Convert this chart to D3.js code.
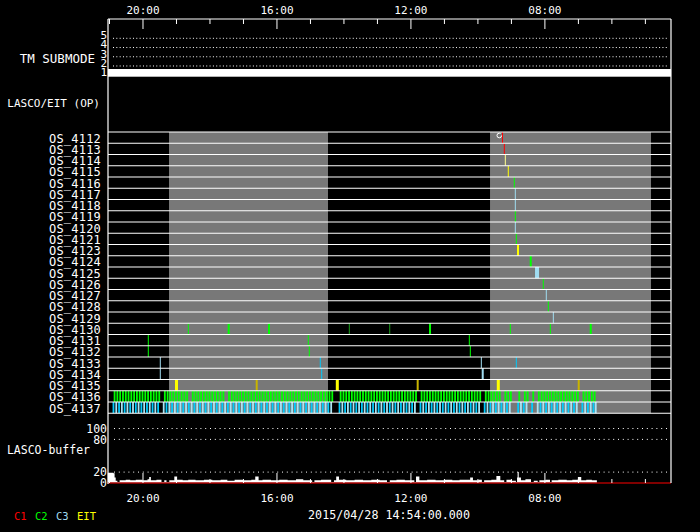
<!DOCTYPE html>
<html><head><meta charset="utf-8">
<script src="https://cdn.jsdelivr.net/npm/d3@7"></script>
<style>
html,body{margin:0;padding:0;background:#000;}
svg{display:block;}
text{font-family:"DejaVu Sans Mono",monospace;fill:#fff;}
</style></head><body>
<svg id="chart" width="700" height="532"></svg>
<script>
// ---------- data (times are minutes of day; axis runs right-to-left in time) ----------
const xDomain = [1261.8, 253.2];
const majorTicks = [1200, 960, 720, 480];
const majorLabels = ["20:00", "16:00", "12:00", "08:00"];
const minorTicks = [1260, 1140, 1080, 1020, 900, 840, 780, 660, 600, 540, 420, 360, 300];

const submodeLevels = [1, 2, 3, 4, 5];
const submodeGrid = [2, 3, 4, 5];
const tmSubmode = [[1261.8, 253.2, 1]];

const osRows = ["OS_4112","OS_4113","OS_4114","OS_4115","OS_4116","OS_4117","OS_4118","OS_4119",
  "OS_4120","OS_4121","OS_4123","OS_4124","OS_4125","OS_4126","OS_4127","OS_4128","OS_4129",
  "OS_4130","OS_4131","OS_4132","OS_4133","OS_4134","OS_4135","OS_4136","OS_4137"];

const grayPeriods = [[1152.5, 867.7], [577.4, 289.0]];

// [os, time (centre), duration (min), kind]
const osEvents = [
  ["OS_4112", 555.1, 1.8, "C1"], ["OS_4113", 551.8, 1.8, "C1"], ["OS_4114", 550.0, 1.8, "EITl"],
  ["OS_4115", 544.7, 1.8, "EIT"], ["OS_4116", 533.9, 1.8, "C2"], ["OS_4117", 532.1, 1.8, "C3"],
  ["OS_4118", 532.1, 1.8, "C3"], ["OS_4119", 532.1, 1.8, "C2"], ["OS_4120", 532.1, 1.8, "C3"],
  ["OS_4121", 530.3, 1.8, "C2"], ["OS_4123", 527.3, 3.6, "EIT"], ["OS_4124", 504.5, 3.6, "C2"],
  ["OS_4125", 493.2, 7.2, "C3"], ["OS_4126", 482.0, 1.8, "C2"], ["OS_4127", 476.6, 1.8, "C3"],
  ["OS_4128", 473.0, 1.8, "C2"], ["OS_4129", 464.0, 1.8, "C3"],
  ["OS_4130", 1117.9, 1.8, "C2"], ["OS_4130", 1045.6, 3.6, "C2"], ["OS_4130", 973.4, 3.6, "C2"],
  ["OS_4130", 829.5, 1.8, "C2d"], ["OS_4130", 757.1, 1.8, "C2d"], ["OS_4130", 684.9, 3.6, "C2"],
  ["OS_4130", 541.1, 1.8, "C2"], ["OS_4130", 469.4, 1.8, "C2"], ["OS_4130", 397.0, 3.6, "C2"],
  ["OS_4131", 1189.6, 1.8, "C2"], ["OS_4131", 903.0, 1.8, "C2"], ["OS_4131", 614.5, 1.8, "C2"],
  ["OS_4132", 1189.6, 1.8, "C2"], ["OS_4132", 901.2, 1.8, "C2"], ["OS_4132", 612.7, 1.8, "C2"],
  ["OS_4133", 1168.1, 1.8, "C3"], ["OS_4133", 881.5, 1.8, "C3c"], ["OS_4133", 593.0, 1.8, "C3"],
  ["OS_4133", 530.3, 1.8, "C3c"],
  ["OS_4134", 1168.1, 1.8, "C3"], ["OS_4134", 879.0, 1.8, "C3c"], ["OS_4134", 590.5, 3.6, "C3"],
  ["OS_4135", 1139.1, 5.4, "EIT"], ["OS_4135", 995.4, 3.6, "EITd"], ["OS_4135", 851.0, 5.4, "EIT"],
  ["OS_4135", 707.0, 3.6, "EITd"], ["OS_4135", 562.6, 5.4, "EIT"], ["OS_4135", 418.5, 3.6, "EITd"]
];
const cmdMarkers = [["OS_4112", 560.8]];

const os4136Times = [1250,1245,1240,1235,1230,1225,1220,1215,1210,1205,1200,1195,1190,1185,1180,1175,1170,
  1160,1155,
  1150,1145,1140,1135,1130,1125,1120,1110,1105,1100,1095,1090,1085,1080,1075,1070,1065,1060,1055,
  1045,1040,1035,1030,1025,1020,1015,1010,1005,1000,995,
  990,985,980,975,970,965,960,955,950,945,940,935,930,925,920,915,910,905,900,895,
  890,885,880,875,870,865,860,
  845,840,835,830,825,820,815,810,805,800,795,790,785,780,775,770,765,760,
  755,750,745,740,735,730,725,720,715,710,
  700,695,690,685,680,675,670,665,660,655,650,645,640,635,630,625,620,615,
  610,605,600,595, 585,580,575,570,565, 560,550,545,540, 525,515,510,500,
  490,485,480,475,470, 465,460,455,450,445,440,435,430,425,420, 410,405,400,395,390];
const os4137Times = [1252,1247,1242,1237,1232,1227,1222,1217,1212,1207,1202,1197,1192,1187,1182,1177,1172,
  1162,1157,1152,
  1147,1142,1137,1132,1127,1122,1117,1112,1107,1102,1097,1092,1087,1082,1077,1072,1067,1062,1057,1052,
  1047,1042,1037,1032,1027,1022,1017,1012,1007,1002,997,
  992,987,982,977,972,967,962,957,952,947,942,937,932,927,922,917,912,907,902,897,
  892,887,882,877,872,867,862,
  847,842,837,832,827,822,817,812,807,802,797,792,787,782,777,772,767,762,
  757,752,747,742,737,732,727,722,717,712,
  702,697,692,687,682,677,672,667,662,657,652,647,642,637,632,627,622,617,
  612,607,602,597, 587,582,577,572,567, 562,557,552,547,542, 527,522,517,512,502,
  492,487,482,477,472, 467,462,457,452,447,442,437,432,427,422, 412,407,402,397,392,388];

const bufferTicks = [0, 20, 80, 100];
const bufferGrid = [20, 80, 100];
// [time, value] step points of LASCO buffer fill
const bufferLevel = [[1262,19],[1252,18],[1250,10],[1248,4],[1245,0],[1241,5],[1230,6],[1222,5],[1212,6],
  [1200,5],[1191,7],[1188,11],[1185,5],[1175,6],[1166,0],[1161,5],[1157,0],[1152,5],[1143,12],[1138,6],
  [1128,5],[1118,6],[1105,5],[1090,6],[1075,5],[1060,6],[1048,4],[1035,6],[1020,5],[1005,6],[998,12],
  [992,5],[985,6],[970,5],[955,6],[940,5],[925,7],[912,5],[896,0],[892,5],[880,6],[862,0],[857,5],
  [853,12],[848,6],[835,5],[820,6],[805,5],[790,6],[775,5],[762,0],[757,5],[745,6],[730,5],[713,0],
  [710,12],[704,5],[690,6],[675,5],[660,6],[645,5],[632,6],[613,10],[608,5],[598,6],[592,0],[588,5],
  [575,6],[566,13],[559,5],[552,0],[548,6],[538,4],[531,0],[529,10],[528,20],[526,10],[522,5],[514,7],
  [504,0],[499,4],[492,0],[489,5],[478,6],[470,0],[467,5],[455,6],[440,5],[430,6],[420,11],[414,5],
  [405,6],[395,5],[386,0]];

const legendItems = ["C1", "C2", "C3", "EIT"];
const dateLabel = "2015/04/28 14:54:00.000";

// ---------- drawing ----------
const colors = {C1:"#ff0000", C2:"#00ff00", C2d:"#1c9c1c", C3:"#a0dcf0", C3c:"#00c8f8",
  EIT:"#ffff00", EITd:"#c8b400", EITl:"#ffff90"};
const legendColors = ["#ff0000", "#00ff00", "#a0dcf0", "#ffff00"];

const svg = d3.select("#chart");
svg.append("rect").attr("width", 700).attr("height", 532).attr("fill", "#000");

const L = 108, R = 671, T = 19, B = 483;
const x = d3.scaleLinear().domain(xDomain).range([L, R]);
const yRow = d3.scaleBand().domain(osRows).range([132, 413.25]);
const rowH = yRow.bandwidth();
const ySub = d3.scaleLinear().domain([1, 5]).range([75.2, 38.3]);
const yBuf = d3.scaleLinear().domain([0, 100]).range([B, 428.5]);
const pxPerMin = Math.abs(x(0) - x(1));

// gray periods
svg.append("g").selectAll("rect").data(grayPeriods).join("rect")
  .attr("x", d => x(d[0])).attr("width", d => x(d[1]) - x(d[0]))
  .attr("y", yRow.range()[0]).attr("height", yRow.range()[1] - yRow.range()[0])
  .attr("fill", "#787878");

// TM submode grid and bar
svg.append("g").selectAll("line").data(submodeGrid).join("line")
  .attr("x1", 113).attr("x2", 668).attr("y1", d => ySub(d)).attr("y2", d => ySub(d))
  .attr("stroke", "#fff").attr("stroke-width", 1).attr("stroke-dasharray", "1,2.33");
svg.append("g").selectAll("rect").data(tmSubmode).join("rect")
  .attr("x", d => x(d[0])).attr("width", d => x(d[1]) - x(d[0]))
  .attr("y", d => ySub(d[2]) - 6.2).attr("height", 7.7).attr("fill", "#fff");
svg.append("g").selectAll("text").data(submodeLevels).join("text")
  .attr("x", 107).attr("y", d => ySub(d) - 3).attr("dy", "0.36em")
  .attr("text-anchor", "end").attr("font-size", 11).text(d => d);

// dense exposure rows
function denseRow(times, os, colorFn) {
  svg.append("g").selectAll("rect").data(times).join("rect")
    .attr("x", d => x(d) - 0.9).attr("width", 1.8)
    .attr("y", yRow(os)).attr("height", rowH)
    .attr("fill", colorFn);
}
denseRow(os4136Times, "OS_4136", () => colors.C2);
denseRow(os4137Times, "OS_4137", (d, i) => i % 2 ? "#a8e4f4" : "#00ccff");

// individual OS events
svg.append("g").selectAll("rect").data(osEvents).join("rect")
  .attr("x", d => x(d[1]) - d[2] * pxPerMin / 2).attr("width", d => d[2] * pxPerMin)
  .attr("y", d => yRow(d[0])).attr("height", rowH)
  .attr("fill", d => colors[d[3]]);

// row lines
svg.append("g").selectAll("line").data(d3.range(osRows.length + 1)).join("line")
  .attr("x1", L).attr("x2", R)
  .attr("y1", i => 132 + i * rowH).attr("y2", i => 132 + i * rowH)
  .attr("stroke", "#fff").attr("stroke-width", 1.2);

// command marker
svg.append("g").selectAll("circle").data(cmdMarkers).join("circle")
  .attr("cx", d => x(d[1])).attr("cy", d => yRow(d[0]) + 3.5).attr("r", 2.3)
  .attr("fill", "none").attr("stroke", "#fff").attr("stroke-width", 1)
  .attr("stroke-dasharray", "11,3.5");

// OS labels
svg.append("g").selectAll("text").data(osRows).join("text")
  .attr("x", 101).attr("y", d => yRow(d) + rowH - 0.6)
  .attr("text-anchor", "end").attr("font-size", 12).attr("letter-spacing", 0.2).text(d => d);

// LASCO buffer
svg.append("g").selectAll("line").data(bufferGrid).join("line")
  .attr("x1", 114).attr("x2", 667).attr("y1", d => yBuf(d)).attr("y2", d => yBuf(d))
  .attr("stroke", "#fff").attr("stroke-width", 1).attr("stroke-dasharray", "1,3.8");
const area = d3.area().curve(d3.curveStepAfter)
  .x(d => x(d[0])).y0(yBuf(0) - 0.6).y1(d => yBuf(d[1]));
svg.append("path").datum(bufferLevel).attr("d", area).attr("fill", "#fff");
svg.append("line").attr("x1", L).attr("x2", R).attr("y1", B).attr("y2", B)
  .attr("stroke", "#ff0000").attr("stroke-width", 1.2);
const bufAxis = svg.append("g").attr("transform", `translate(${L},0)`)
  .call(d3.axisLeft(yBuf).tickValues(bufferTicks).tickSize(0).tickPadding(1));
bufAxis.select(".domain").remove();
bufAxis.selectAll("text").attr("font-size", 11.5).attr("font-family", "DejaVu Sans Mono").attr("fill", "#fff");

// frame
svg.append("line").attr("x1", L).attr("x2", R).attr("y1", T).attr("y2", T).attr("stroke", "#fff");
svg.append("line").attr("x1", L).attr("x2", L).attr("y1", T).attr("y2", B + 1).attr("stroke", "#fff").attr("stroke-width", 1.2);
svg.append("line").attr("x1", R).attr("x2", R).attr("y1", T).attr("y2", B).attr("stroke", "#fff").attr("stroke-width", 1.2);

// time axes
function styleAxis(g) {
  g.select(".domain").remove();
  g.selectAll("line").attr("stroke", "#fff");
  g.selectAll("text").attr("font-size", 11).attr("font-family", "DejaVu Sans Mono").attr("fill", "#fff");
}
const topMajor = svg.append("g").attr("transform", `translate(0,${T})`)
  .call(d3.axisBottom(x).tickValues(majorTicks).tickSize(10).tickFormat((d, i) => majorLabels[i]));
styleAxis(topMajor);
topMajor.selectAll("text").attr("y", -5.5).attr("dy", 0);
const topMinor = svg.append("g").attr("transform", `translate(0,${T})`)
  .call(d3.axisBottom(x).tickValues(minorTicks).tickSize(5).tickFormat(""));
styleAxis(topMinor);
const botMajor = svg.append("g").attr("transform", `translate(0,${B})`)
  .call(d3.axisTop(x).tickValues(majorTicks).tickSize(10).tickFormat((d, i) => majorLabels[i]));
styleAxis(botMajor);
botMajor.selectAll("text").attr("y", 18.5).attr("dy", 0);
const botMinor = svg.append("g").attr("transform", `translate(0,${B})`)
  .call(d3.axisTop(x).tickValues(minorTicks).tickSize(4).tickFormat(""));
styleAxis(botMinor);

// panel titles
const titles = [["TM SUBMODE", 95, 58, 12.5], ["LASCO/EIT (OP)", 100, 103.5, 11], ["LASCO-buffer", 90, 449.5, 11.5]];
svg.append("g").selectAll("text").data(titles).join("text")
  .attr("x", d => d[1]).attr("y", d => d[2]).attr("dy", "0.36em")
  .attr("text-anchor", "end").attr("font-size", d => d[3]).text(d => d[0]);

// date
svg.append("text").attr("x", 389).attr("y", 518.5).attr("text-anchor", "middle")
  .attr("font-size", 11.7).text(dateLabel);

// legend
const legendX = [14, 35, 56, 77];
svg.append("g").selectAll("text").data(legendItems).join("text")
  .attr("x", (d, i) => legendX[i]).attr("y", 520).attr("font-size", 10.5)
  .style("fill", (d, i) => legendColors[i]).text(d => d);
</script>
</body></html>
